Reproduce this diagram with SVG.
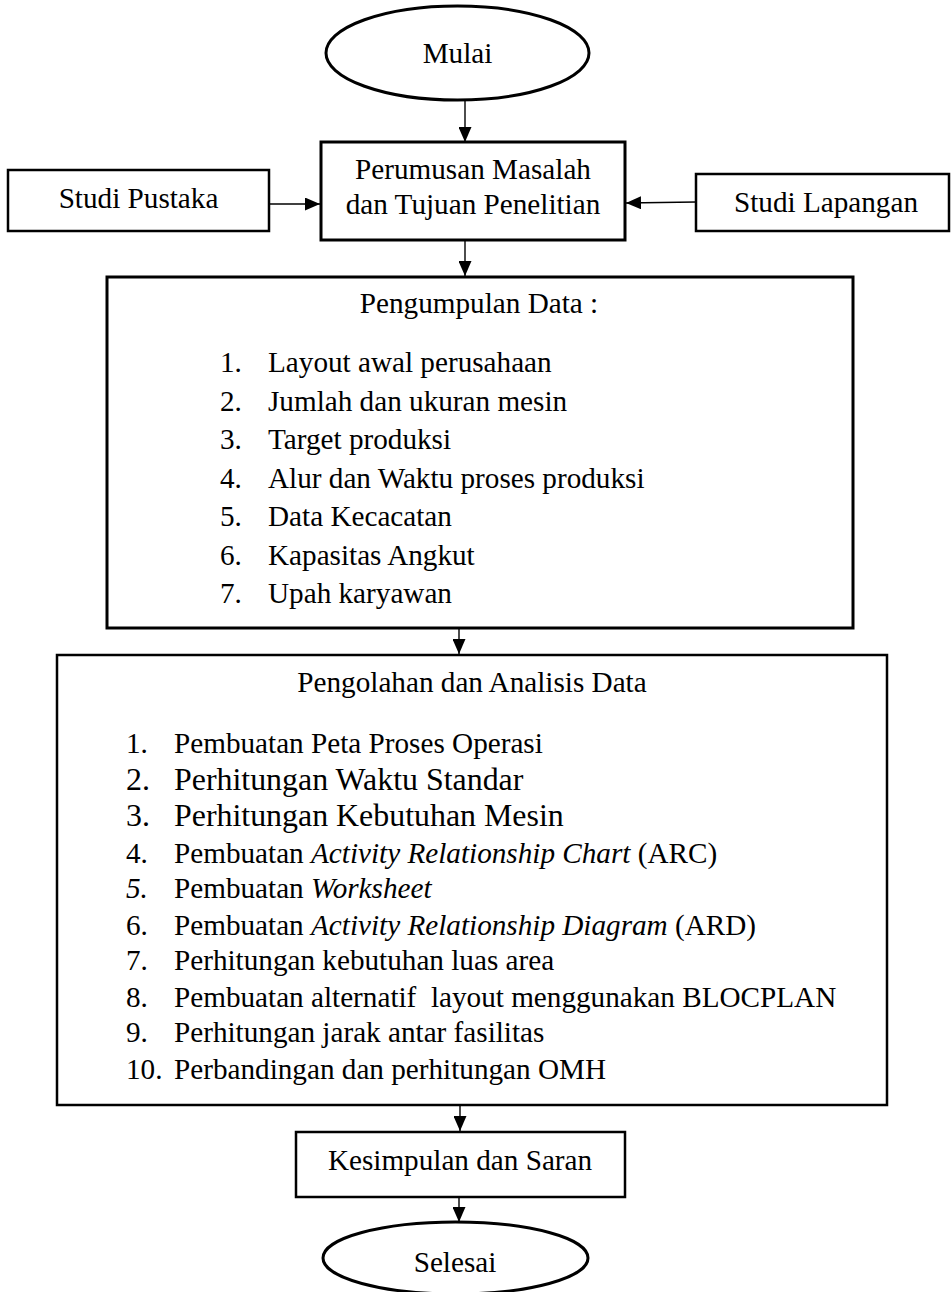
<svg xmlns="http://www.w3.org/2000/svg" width="952" height="1292" viewBox="0 0 952 1292">
<style>
text{font-family:"Liberation Serif","Times New Roman",serif;font-size:29.2px;fill:#000}
.c{text-anchor:middle}
.b{fill:#fff;stroke:#000;stroke-width:3}
.b2{fill:#fff;stroke:#000;stroke-width:2.5}
.cn{stroke:#000;stroke-width:1.4;fill:none}
.big{font-size:31.9px}
.i{font-style:italic}
</style>
<defs>
<marker id="ah" markerUnits="userSpaceOnUse" markerWidth="15" markerHeight="13" refX="15" refY="6.5" orient="auto">
<path d="M0,0 L15,6.5 L0,13 z" fill="#000"/>
</marker>
</defs>
<rect width="952" height="1292" fill="#fff"/>
<g id="connectors">
<line class="cn" x1="465" y1="100" x2="465" y2="142" marker-end="url(#ah)"/>
<line class="cn" x1="269" y1="204" x2="320" y2="204" marker-end="url(#ah)"/>
<line class="cn" x1="696" y1="202" x2="626" y2="203" marker-end="url(#ah)"/>
<line class="cn" x1="465" y1="240" x2="465" y2="276" marker-end="url(#ah)"/>
<line class="cn" x1="459" y1="628" x2="459" y2="654" marker-end="url(#ah)"/>
<line class="cn" x1="460" y1="1105" x2="460" y2="1131" marker-end="url(#ah)"/>
<line class="cn" x1="459" y1="1197" x2="459" y2="1222" marker-end="url(#ah)"/>
</g>
<g id="mulai">
<ellipse class="b" cx="457.5" cy="53" rx="131.5" ry="47"/>
<text class="c" x="457.5" y="63">Mulai</text>
</g>
<g id="perumusan">
<rect class="b" x="321" y="142" width="304" height="98"/>
<text class="c" x="473" y="179">Perumusan Masalah</text>
<text class="c" x="473" y="214">dan Tujuan Penelitian</text>
</g>
<g id="studi-pustaka">
<rect class="b2" x="8" y="170" width="261" height="61"/>
<text class="c" x="138.5" y="208">Studi Pustaka</text>
</g>
<g id="studi-lapangan">
<rect class="b2" x="696" y="174" width="253" height="57"/>
<text class="c" x="826" y="212">Studi Lapangan</text>
</g>
<g id="pengumpulan-data">
<rect class="b" x="107" y="277" width="746" height="351"/>
<text class="c" x="479" y="313">Pengumpulan Data :</text>
<text x="220" y="372">1.</text><text x="268" y="372">Layout awal perusahaan</text>
<text x="220" y="410.5">2.</text><text x="268" y="410.5">Jumlah dan ukuran mesin</text>
<text x="220" y="449">3.</text><text x="268" y="449">Target produksi</text>
<text x="220" y="487.5">4.</text><text x="268" y="487.5">Alur dan Waktu proses produksi</text>
<text x="220" y="526">5.</text><text x="268" y="526">Data Kecacatan</text>
<text x="220" y="564.5">6.</text><text x="268" y="564.5">Kapasitas Angkut</text>
<text x="220" y="603">7.</text><text x="268" y="603">Upah karyawan</text>
</g>
<g id="pengolahan-data">
<rect class="b2" x="57" y="655" width="830" height="450"/>
<text class="c" x="472" y="692">Pengolahan dan Analisis Data</text>
<text x="126" y="753">1.</text><text x="174" y="753">Pembuatan Peta Proses Operasi</text>
<text class="big" x="126" y="790">2.</text><text class="big" x="174" y="790">Perhitungan Waktu Standar</text>
<text class="big" x="126" y="826">3.</text><text class="big" x="174" y="826">Perhitungan Kebutuhan Mesin</text>
<text x="126" y="863">4.</text><text x="174" y="863">Pembuatan <tspan class="i">Activity Relationship Chart</tspan> (ARC)</text>
<text class="i" x="126" y="898">5.</text><text x="174" y="898">Pembuatan <tspan class="i">Worksheet</tspan></text>
<text x="126" y="935">6.</text><text x="174" y="935">Pembuatan <tspan class="i">Activity Relationship Diagram</tspan> (ARD)</text>
<text x="126" y="970">7.</text><text x="174" y="970">Perhitungan kebutuhan luas area</text>
<text x="126" y="1007">8.</text><text x="174" y="1007" style="white-space:pre">Pembuatan alternatif  layout menggunakan BLOCPLAN</text>
<text x="126" y="1042">9.</text><text x="174" y="1042">Perhitungan jarak antar fasilitas</text>
<text x="126" y="1079">10.</text><text x="174" y="1079">Perbandingan dan perhitungan OMH</text>
</g>
<g id="kesimpulan">
<rect class="b2" x="296" y="1132" width="329" height="65"/>
<text class="c" x="460" y="1170">Kesimpulan dan Saran</text>
</g>
<g id="selesai">
<ellipse class="b" cx="455.5" cy="1258" rx="132.5" ry="36"/>
<text class="c" x="455" y="1272">Selesai</text>
</g>
</svg>
